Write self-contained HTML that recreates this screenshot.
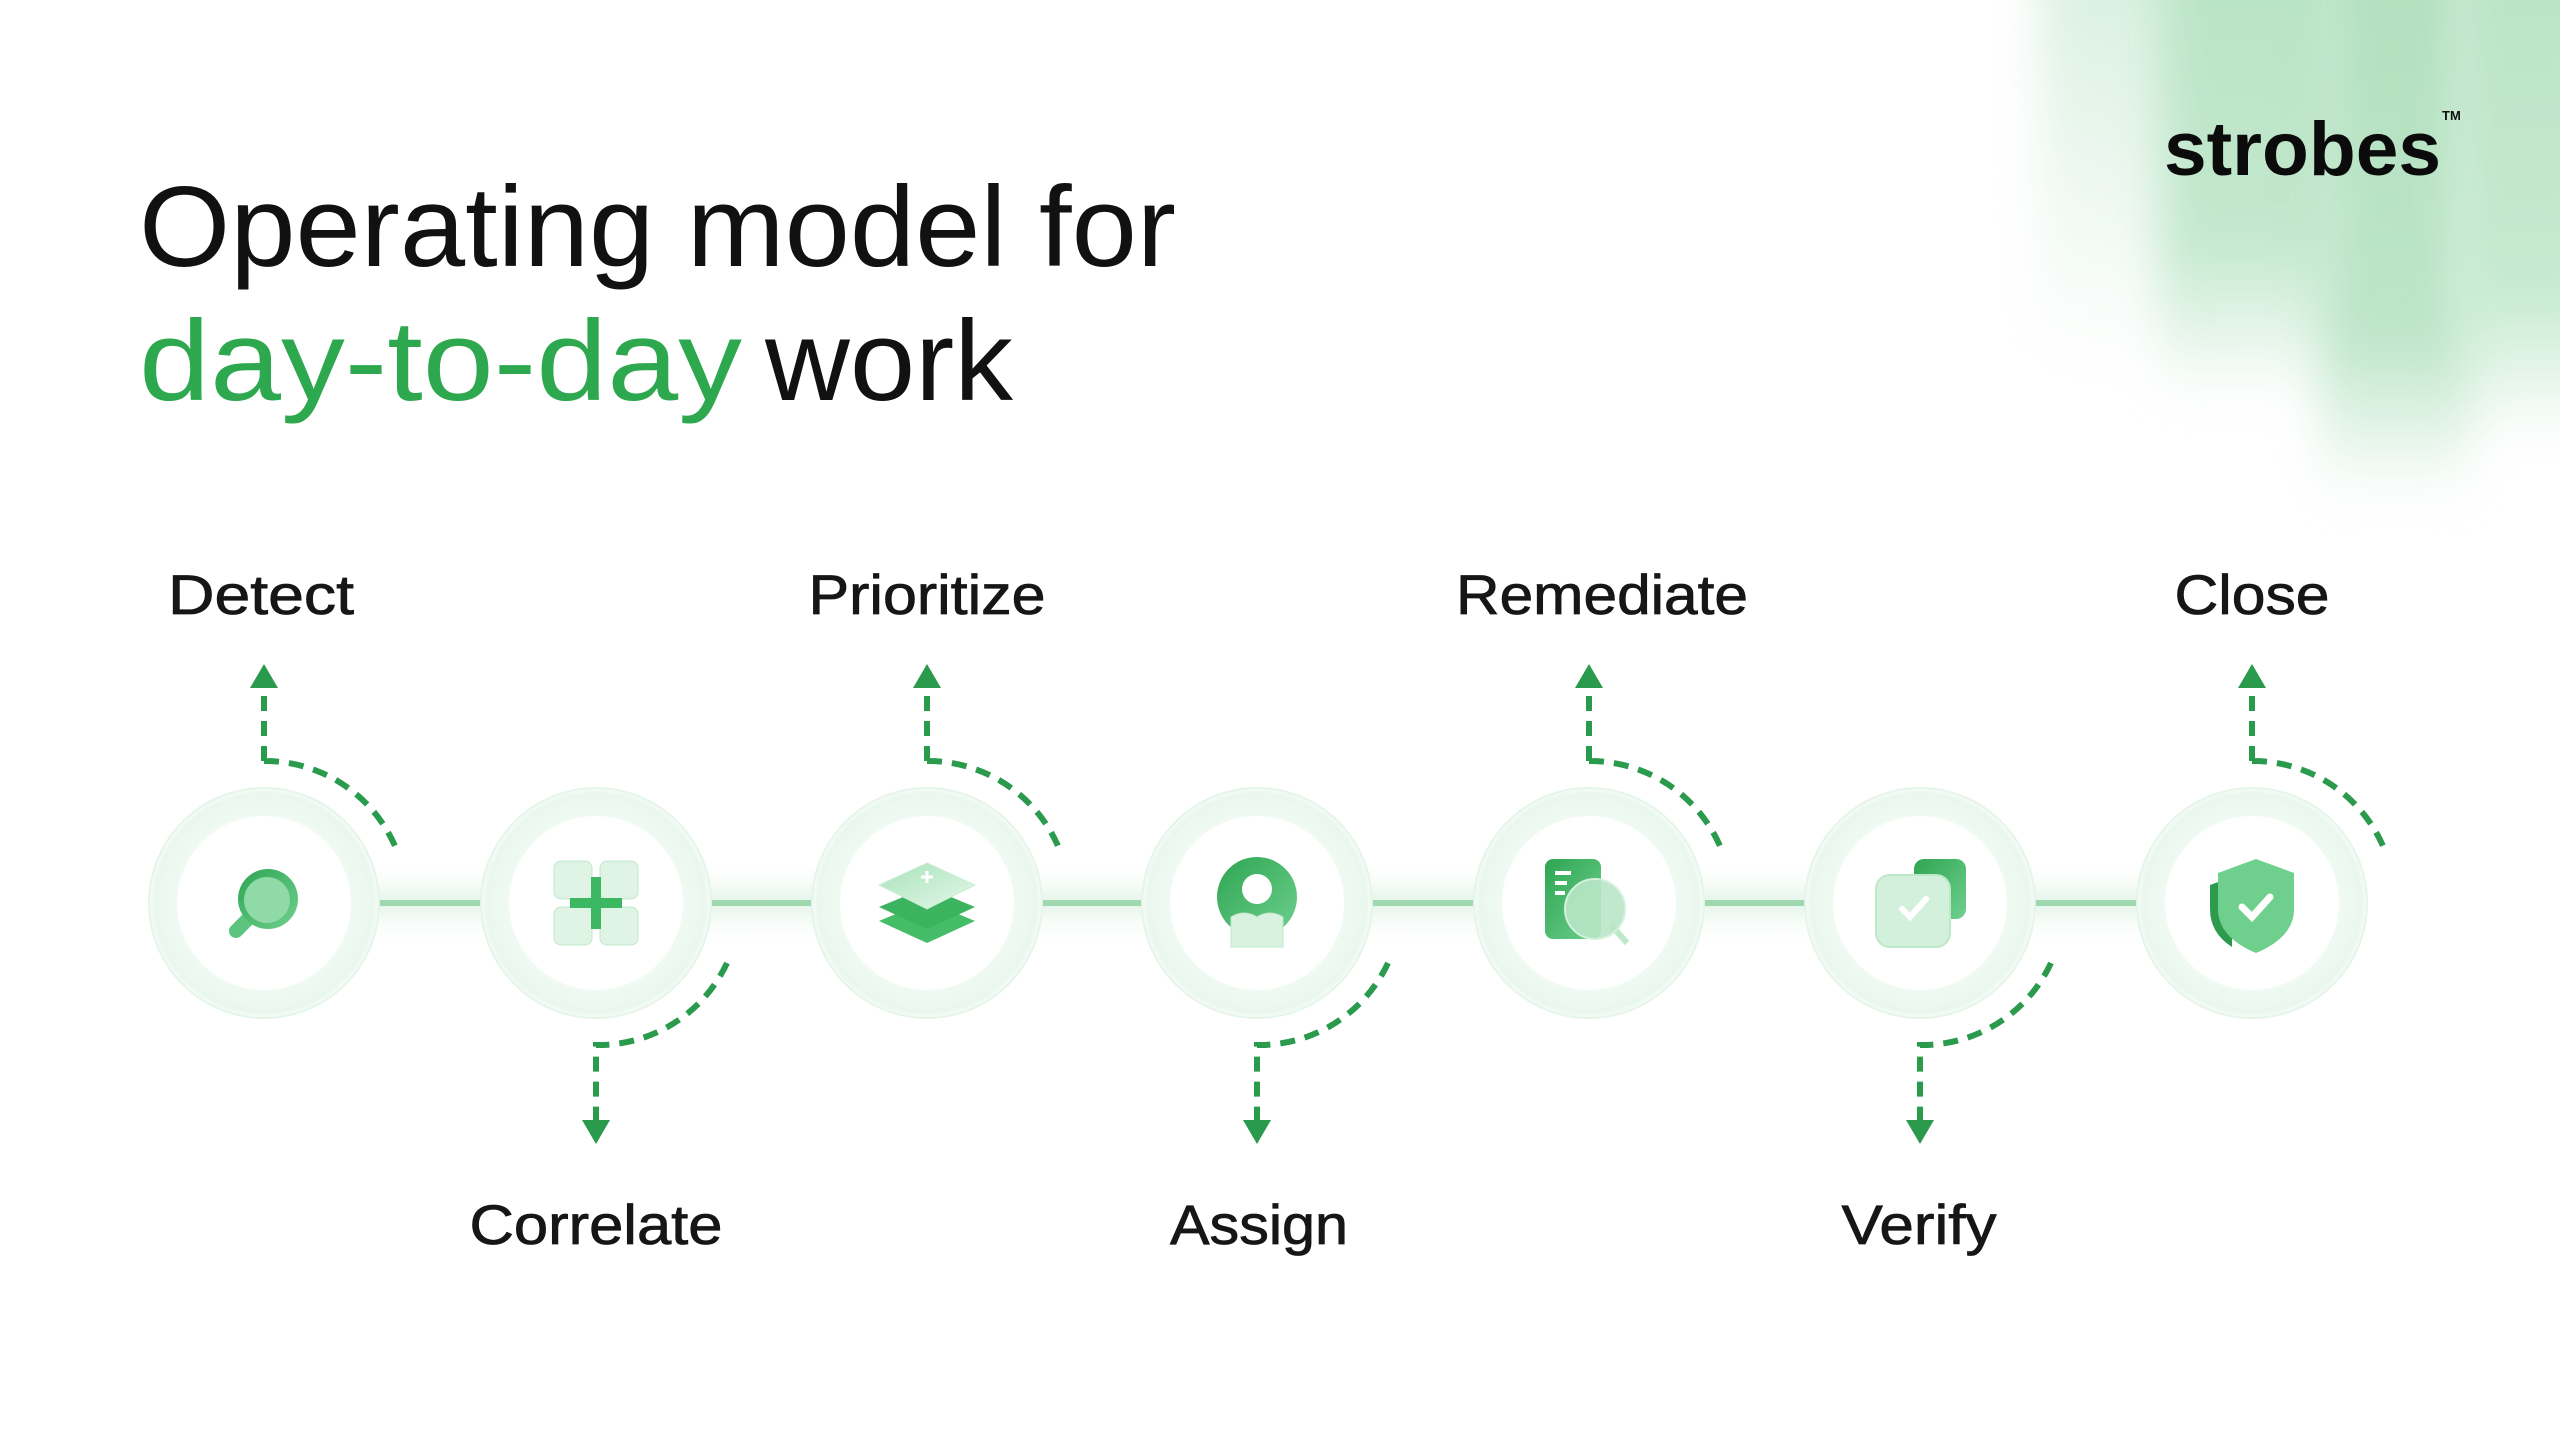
<!DOCTYPE html>
<html><head><meta charset="utf-8"><style>
html,body{margin:0;padding:0;background:#fff;}
body{width:2560px;height:1440px;overflow:hidden;position:relative;}
.glow{position:absolute;filter:blur(22px);}
svg{position:absolute;left:0;top:0;}
</style></head><body>
<div class="glow" style="left:2040px;top:-60px;width:160px;height:420px;background:linear-gradient(#d6efdd,rgba(230,245,234,0.5) 70%,rgba(255,255,255,0));"></div>
<div class="glow" style="left:2160px;top:-60px;width:180px;height:460px;background:linear-gradient(#b8e3c4,#c3e8cd 65%,rgba(255,255,255,0));"></div>
<div class="glow" style="left:2320px;top:-60px;width:150px;height:560px;background:linear-gradient(#b2e0bf,#bde5c8 70%,rgba(255,255,255,0));"></div>
<div class="glow" style="left:2450px;top:-60px;width:160px;height:500px;background:linear-gradient(#b9e3c5,#c6eacf 70%,rgba(255,255,255,0));"></div>
<svg width="2560" height="1440" viewBox="0 0 2560 1440" xmlns="http://www.w3.org/2000/svg">
<defs>
<linearGradient id="band" x1="0" y1="0" x2="0" y2="1">
<stop offset="0" stop-color="#fff" stop-opacity="0"/><stop offset="0.5" stop-color="#e3f4e8"/><stop offset="1" stop-color="#fff" stop-opacity="0"/>
</linearGradient>
<radialGradient id="ring" cx="0.5" cy="0.5" r="0.5">
<stop offset="0.74" stop-color="#f0faf3"/><stop offset="0.95" stop-color="#eaf7ee"/><stop offset="1" stop-color="#f6fcf8"/>
</radialGradient>
<linearGradient id="g1" x1="0" y1="0" x2="1" y2="1"><stop offset="0" stop-color="#2ea552"/><stop offset="1" stop-color="#6fd08e"/></linearGradient>
<linearGradient id="g2" x1="0" y1="0" x2="1" y2="1"><stop offset="0" stop-color="#a7e3b8"/><stop offset="1" stop-color="#e5f7ea"/></linearGradient>
</defs>
<text x="139" y="266" font-family="Liberation Sans, sans-serif" font-size="114" fill="#111" textLength="1037" lengthAdjust="spacingAndGlyphs">Operating model for</text>
<text x="139" y="400" font-family="Liberation Sans, sans-serif" font-size="114" fill="#2ea84f" textLength="603" lengthAdjust="spacingAndGlyphs">day-to-day</text>
<text x="765" y="400" font-family="Liberation Sans, sans-serif" font-size="114" fill="#111" textLength="248" lengthAdjust="spacingAndGlyphs">work</text>
<text x="2164" y="175" font-family="Liberation Sans, sans-serif" font-weight="bold" font-size="76" fill="#0b0b0b" textLength="277" lengthAdjust="spacingAndGlyphs">strobes</text>
<text x="2442" y="120" font-family="Liberation Sans, sans-serif" font-weight="bold" font-size="13" fill="#111">TM</text>

<rect x="260" y="860" width="2000" height="86" fill="url(#band)"/>
<line x1="260" y1="903" x2="2260" y2="903" stroke="#9fd8ae" stroke-width="6"/>

<g font-family="Liberation Sans, sans-serif" font-size="56" fill="#161616" text-anchor="middle" stroke="#161616" stroke-width="0.8">
<text x="261" y="614" textLength="186" lengthAdjust="spacingAndGlyphs">Detect</text>
<text x="927" y="614" textLength="237" lengthAdjust="spacingAndGlyphs">Prioritize</text>
<text x="1602" y="614" textLength="292" lengthAdjust="spacingAndGlyphs">Remediate</text>
<text x="2252" y="614" textLength="155" lengthAdjust="spacingAndGlyphs">Close</text>
<text x="596" y="1244" textLength="253" lengthAdjust="spacingAndGlyphs">Correlate</text>
<text x="1259" y="1244" textLength="178" lengthAdjust="spacingAndGlyphs">Assign</text>
<text x="1919" y="1244" textLength="155" lengthAdjust="spacingAndGlyphs">Verify</text>
</g>

<g id="nodes">
<g transform="translate(264,903)"><circle r="115" fill="url(#ring)" stroke="#e6f5ea" stroke-width="2"/><circle r="87" fill="#fff"/></g>
<g transform="translate(596,903)"><circle r="115" fill="url(#ring)" stroke="#e6f5ea" stroke-width="2"/><circle r="87" fill="#fff"/></g>
<g transform="translate(927,903)"><circle r="115" fill="url(#ring)" stroke="#e6f5ea" stroke-width="2"/><circle r="87" fill="#fff"/></g>
<g transform="translate(1257,903)"><circle r="115" fill="url(#ring)" stroke="#e6f5ea" stroke-width="2"/><circle r="87" fill="#fff"/></g>
<g transform="translate(1589,903)"><circle r="115" fill="url(#ring)" stroke="#e6f5ea" stroke-width="2"/><circle r="87" fill="#fff"/></g>
<g transform="translate(1920,903)"><circle r="115" fill="url(#ring)" stroke="#e6f5ea" stroke-width="2"/><circle r="87" fill="#fff"/></g>
<g transform="translate(2252,903)"><circle r="115" fill="url(#ring)" stroke="#e6f5ea" stroke-width="2"/><circle r="87" fill="#fff"/></g>
</g>

<g transform="translate(264,903)">
<line x1="-12" y1="12" x2="-28" y2="28" stroke="#5cc47e" stroke-width="14" stroke-linecap="round"/>
<circle cx="4" cy="-4" r="30" fill="url(#g1)"/><circle cx="3" cy="-3" r="23" fill="#8fdaa6"/>
</g>
<g transform="translate(596,903)">
<rect x="-42" y="-42" width="38" height="38" rx="7" fill="#dff4e5" stroke="#bfe8cb"/>
<rect x="4" y="-42" width="38" height="38" rx="7" fill="#dff4e5" stroke="#bfe8cb"/>
<rect x="-42" y="4" width="38" height="38" rx="7" fill="#dff4e5" stroke="#bfe8cb"/>
<rect x="4" y="4" width="38" height="38" rx="7" fill="#dff4e5" stroke="#bfe8cb"/>
<rect x="-5" y="-26" width="10" height="52" fill="#3db862"/><rect x="-26" y="-5" width="52" height="10" fill="#3db862"/>
</g>
<g transform="translate(927,903)">
<path d="M0,-2 L48,18 L0,40 L-48,18 z" fill="#45bd68"/>
<path d="M0,-16 L48,4 L0,26 L-48,4 z" fill="#3cb45f"/>
<path d="M0,-40 L48,-18 L0,6 L-48,-18 z" fill="url(#g2)" stroke="#c8eed4"/>
<path d="M0,-32 v12 M-6,-26 h12" stroke="#fff" stroke-width="3"/>
</g>
<g transform="translate(1257,903)">
<circle cx="0" cy="-6" r="40" fill="url(#g1)"/><circle cx="0" cy="-14" r="15" fill="#fff"/>
<path d="M-26,14 q13,-8 26,0 q13,-8 26,0 v30 h-52 z" fill="#d8f2df" stroke="#bfe8cb"/>
</g>
<g transform="translate(1589,903)">
<rect x="-44" y="-44" width="56" height="80" rx="8" fill="url(#g1)"/>
<rect x="-34" y="-32" width="16" height="4" fill="#fff"/><rect x="-34" y="-22" width="12" height="4" fill="#fff"/><rect x="-34" y="-12" width="10" height="4" fill="#fff"/>
<line x1="22" y1="22" x2="38" y2="40" stroke="#bfe8cb" stroke-width="6"/>
<circle cx="6" cy="6" r="30" fill="#b9e6c6" fill-opacity="0.9" stroke="#d3f1dc" stroke-width="2"/>
</g>
<g transform="translate(1920,903)">
<rect x="-6" y="-44" width="52" height="60" rx="10" fill="url(#g1)"/>
<rect x="-44" y="-28" width="74" height="72" rx="14" fill="#d3f0dc" stroke="#bfe8cb" stroke-width="2"/>
<path d="M-18,6 l8,8 l16,-18" stroke="#fff" stroke-width="6" fill="none" stroke-linecap="round"/>
</g>
<g transform="translate(2252,903)">
<path d="M-42,-18 L-20,-26 L-20,44 Q-42,30 -42,6 z" fill="#2e9a4e"/>
<path d="M4,-44 L42,-30 L42,6 Q42,34 4,50 Q-34,34 -34,6 L-34,-30 z" fill="#6fcf8c"/>
<path d="M-10,4 l10,10 l18,-20" stroke="#fff" stroke-width="7" fill="none" stroke-linecap="round"/>
</g>

<g fill="none" stroke="#2a9a4c" stroke-width="6" stroke-dasharray="15 10">
<path d="M264,761 A142,142 0 0 1 395,846 M264,761 V690"/>
<path d="M927,761 A142,142 0 0 1 1058,846 M927,761 V690"/>
<path d="M1589,761 A142,142 0 0 1 1720,846 M1589,761 V690"/>
<path d="M2252,761 A142,142 0 0 1 2383,846 M2252,761 V690"/>
<path d="M727,963 A142,142 0 0 1 596,1045 V1120"/>
<path d="M1388,963 A142,142 0 0 1 1257,1045 V1120"/>
<path d="M2051,963 A142,142 0 0 1 1920,1045 V1120"/>
</g>
<g fill="#2a9a4c">
<path d="M264,664 l-14,24 h28 z"/><path d="M927,664 l-14,24 h28 z"/><path d="M1589,664 l-14,24 h28 z"/><path d="M2252,664 l-14,24 h28 z"/>
<path d="M596,1144 l-14,-24 h28 z"/><path d="M1257,1144 l-14,-24 h28 z"/><path d="M1920,1144 l-14,-24 h28 z"/>
</g>
</svg>
</body></html>
